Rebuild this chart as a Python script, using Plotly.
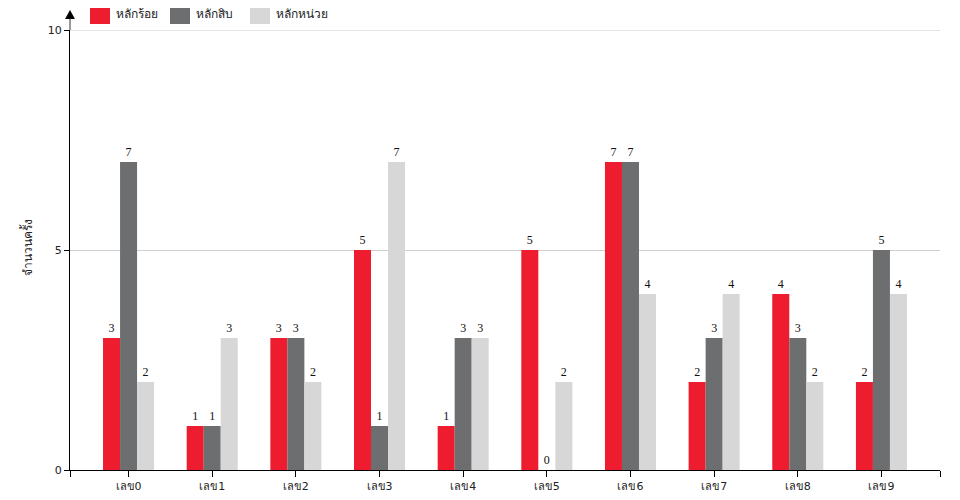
import plotly.graph_objects as go

categories = ["เลข0", "เลข1", "เลข2", "เลข3", "เลข4", "เลข5", "เลข6", "เลข7", "เลข8", "เลข9"]
series_names = ["หลักร้อย", "หลักสิบ", "หลักหน่วย"]
hundreds = [3, 1, 3, 5, 1, 5, 7, 2, 4, 2]
tens = [7, 1, 3, 1, 3, 0, 7, 3, 3, 5]
units = [2, 3, 2, 7, 3, 2, 4, 4, 2, 4]
y_ticks = [0, 5, 10]
y_title = "จำนวนครั้ง"

colors = ["#ed1c2e", "#6d6e70", "#d7d7d7"]
series_values = [hundreds, tens, units]

SANS = "DejaVu Sans, Noto Sans, sans-serif"
SERIF = "Liberation Serif, Times New Roman, serif"

xpos = list(range(len(categories)))
fig = go.Figure()
for name, vals, col in zip(series_names, series_values, colors):
    fig.add_trace(go.Bar(
        x=xpos, y=vals, name=name,
        marker=dict(color=col, line=dict(width=0)),
        text=[str(v) for v in vals], textposition="outside",
        textfont=dict(family=SERIF, size=12, color="#111"),
        cliponaxis=False, showlegend=False,
    ))

xmin, xmax = -0.7, len(categories) - 1 + 0.7
# page body has an 8px margin, so the figure is sized/offset to compensate
fig.update_layout(
    width=944, height=484,
    margin=dict(l=62, r=12, t=22, b=22, autoexpand=False),
    plot_bgcolor="white", paper_bgcolor="white",
    barmode="group", bargap=0.39, bargroupgap=0,
    font=dict(family=SANS, size=11, color="#222"),
    xaxis=dict(
        range=[xmin, xmax], automargin=False,
        tickvals=[xmin] + xpos + [xmax],
        ticktext=[""] + categories + [""],
        ticks="outside", ticklen=6, tickcolor="black", tickwidth=1,
        showline=True, linecolor="black", linewidth=1,
        showgrid=False, zeroline=False,
        tickfont=dict(family=SANS, size=11, color="#222"),
    ),
    yaxis=dict(
        range=[0, 10.002], tickvals=y_ticks, automargin=False,
        ticks="outside", ticklen=5, tickcolor="black",
        showline=True, linecolor="black", linewidth=1,
        showgrid=True, gridcolor="#d0d0d0", gridwidth=1,
        zeroline=False,
        tickfont=dict(family=SANS, size=11, color="#222"),
    ),
)

# top gridline (plotly drops it at the plot edge)
fig.add_shape(type="line", xref="paper", yref="y", x0=0, x1=1, y0=y_ticks[-1], y1=y_ticks[-1],
              line=dict(color="#d0d0d0", width=1), layer="below")

# y axis title
fig.add_annotation(xref="paper", yref="paper", x=(27 - 70) / 870, y=(470 - 248) / 440,
                   text=y_title, textangle=-90, showarrow=False,
                   xanchor="center", yanchor="middle",
                   font=dict(family=SANS, size=12, color="#222"))

# y axis extension and arrow head
fig.add_shape(type="line", xref="paper", yref="paper", x0=0, x1=0, y0=1.0, y1=1.028,
              line=dict(color="#777", width=1.5))
fig.add_shape(type="path", xref="paper", yref="paper",
              path="M -0.0057,1.0250 L 0.0057,1.0250 L 0,1.0455 Z",
              fillcolor="black", line=dict(color="black", width=0))

# manual legend
leg_x = [90, 170, 250]
for i, (name, col) in enumerate(zip(series_names, colors)):
    x0 = (leg_x[i] - 70) / 870
    x1 = (leg_x[i] + 20 - 70) / 870
    y0 = (470 - 24) / 440
    y1 = (470 - 4) / 440
    fig.add_shape(type="rect", xref="paper", yref="paper", x0=x0, x1=x1, y0=y0, y1=y1,
                  fillcolor=col, line=dict(width=0))
    fig.add_annotation(xref="paper", yref="paper", x=(leg_x[i] + 24 - 70) / 870,
                       y=(470 - 14) / 440, text=name, showarrow=False,
                       xanchor="left", yanchor="middle",
                       font=dict(family=SANS, size=12, color="#222"))

fig.write_html("out.html")
